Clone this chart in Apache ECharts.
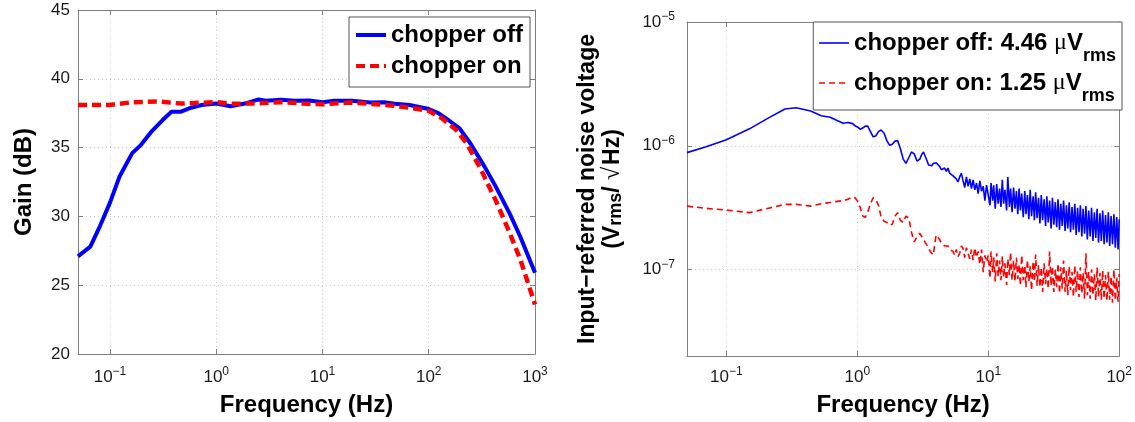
<!DOCTYPE html>
<html>
<head>
<meta charset="utf-8">
<script src="https://cdn.jsdelivr.net/npm/echarts@6/dist/echarts.min.js"></script>
<style>
  html, body { margin: 0; padding: 0; background: #ffffff; }
  #chart { width: 1135px; height: 422px; }
</style>
</head>
<body>
<div id="chart"></div>
<script>
// ---- Gain response (left panel), frequency in Hz, gain in dB ----
const gainOffFreq = [0.05, 0.0653, 0.0805, 0.1, 0.123, 0.162, 0.196, 0.248, 0.313, 0.379, 0.46, 0.58, 0.73,
  1.0, 1.36, 1.86, 2.5, 2.95, 4.03, 5.5, 7.5, 10, 12.9, 19, 28, 38, 48, 66,
  100, 123, 155, 195, 247, 336, 425, 578, 729, 1000];
const gainOff = [27.1, 27.8, 29.3, 31.0, 32.9, 34.6, 35.2, 36.2, 37.0, 37.6, 37.6, 37.9, 38.1,
  38.2, 38.0, 38.2, 38.5, 38.4, 38.47, 38.4, 38.42, 38.3, 38.4, 38.4, 38.27, 38.3, 38.18, 38.1,
  37.8, 37.5, 36.97, 36.4, 35.3, 33.6, 32.2, 30.2, 28.5, 25.9];

const gainOnFreq = [0.05, 0.1, 0.162, 0.29, 0.46, 1.0, 1.47, 2.55, 4.03, 7.5, 10, 19, 32, 48, 71,
  100, 133, 181, 228, 310, 425, 578, 729, 1000];
const gainOn = [38.1, 38.1, 38.3, 38.35, 38.2, 38.3, 38.18, 38.22, 38.3, 38.18, 38.15, 38.27, 38.15, 38.03, 37.86,
  37.67, 37.13, 36.29, 35.3, 33.4, 31.2, 28.8, 26.85, 23.6];

// ---- Input-referred noise spectral density (right panel) ----
// frequency in Hz, noise in nV/sqrt(Hz)
const noiseFreq = [
  0.05, 0.07, 0.1, 0.15, 0.21, 0.28, 0.34, 0.44, 0.53, 0.62, 0.7, 0.78, 0.85, 0.92, 0.96,
  1.0, 1.05, 1.1, 1.15, 1.2, 1.26, 1.32, 1.38, 1.45, 1.52, 1.6, 1.68, 1.76, 1.85, 1.94, 2.03, 2.13, 2.24, 2.35, 2.47, 2.59, 2.72, 2.86, 3.0,
  3.1, 3.2, 3.3, 3.4, 3.5, 3.6, 3.7, 3.8, 3.9, 4.0, 4.12, 4.25, 4.38, 4.5, 4.64, 4.78, 4.92, 5.07, 5.22, 5.38,
  5.54, 5.7, 5.87, 6.05, 6.23, 6.42, 6.61, 6.81, 7.01, 7.22, 7.44, 7.66, 7.89, 8.13, 8.37, 8.62, 8.88, 9.15, 9.42, 9.7,
  10, 10.3, 10.5, 10.8, 11, 11.3, 11.6, 11.9, 12.2, 12.5,
  12.8, 13.1, 13.4, 13.8, 14.1, 14.5, 14.8, 15.2, 15.6, 16,
  16.4, 16.8, 17.2, 17.6, 18, 18.5, 19, 19.4, 19.9, 20.4,
  20.9, 21.4, 22, 22.5, 23, 23.6, 24.2, 24.8, 25.4, 26,
  26.7, 27.4, 28, 28.7, 29.4, 30.2, 30.9, 31.7, 32.5, 33.3,
  34.1, 35, 35.8, 36.7, 37.6, 38.6, 39.5, 40.5, 41.5, 42.5,
  43.6, 44.7, 45.8, 46.9, 48.1, 49.3, 50.5, 51.8, 53, 54.4,
  55.7, 57.1, 58.5, 60, 61.5, 63, 64.6, 66.2, 67.8, 69.5,
  71.3, 73, 74.8, 76.7, 78.6, 80.6, 82.6, 84.6, 86.7, 88.9,
  91.1, 93.4, 95.7, 98, 100];

const noiseOff = [
  880, 980, 1120, 1370, 1680, 1980, 2030, 1910, 1750, 1700, 1600, 1520, 1540, 1510, 1450,
  1420, 1360, 1390, 1440, 1440, 1300, 1180, 1200, 1300, 1340, 1260, 1100, 1010, 1030, 1090, 1100, 950, 780, 720, 800, 890, 860, 750, 780,
  850, 890, 880, 760, 700, 680, 690, 720, 700, 730, 745, 680, 640, 640, 660, 620, 660, 600, 620, 570,
  590, 540, 510, 560, 600, 520, 460, 560, 470, 540, 450, 530, 440, 500, 410, 520, 430, 470, 360, 480,
  470, 330, 500, 360, 480, 310, 490, 340, 450, 320,
  530, 340, 440, 300, 560, 320, 450, 290, 460, 310,
  430, 280, 450, 300, 410, 265, 430, 280, 400, 255,
  440, 270, 390, 250, 420, 260, 380, 235, 400, 250,
  370, 225, 390, 240, 360, 215, 380, 230, 350, 220,
  370, 210, 340, 225, 360, 205, 330, 215, 350, 200,
  320, 210, 340, 190, 315, 200, 330, 185, 310, 195,
  325, 175, 300, 185, 315, 170, 290, 180, 310, 165,
  285, 170, 300, 160, 275, 165, 290, 155, 270, 160,
  280, 150, 265, 145, 255];

const noiseOn = [
  325, 312, 302, 288, 313, 336, 336, 325, 340, 348, 355, 360, 370, 387, 380,
  360, 320, 270, 264, 290, 340, 380, 370, 330, 265, 245, 240, 228, 232, 270, 288, 250, 240, 270, 260, 200, 167, 185, 196,
  190, 175, 165, 160, 150, 140, 135, 131, 160, 190, 196, 175, 163, 160, 155, 150, 155, 145, 144, 140,
  130, 145, 127, 135, 155, 148, 125, 150, 135, 122, 145, 119, 150, 125, 140, 110, 145, 95, 130, 115,
  130, 85, 140, 95, 125, 80, 135, 88, 118, 82,
  128, 86, 112, 75, 122, 90, 138, 82, 118, 80,
  125, 84, 110, 74, 130, 82, 108, 72, 120, 80,
  106, 68, 116, 80, 132, 74, 108, 72, 104, 66,
  112, 76, 102, 70, 140, 74, 106, 66, 100, 72,
  112, 64, 104, 70, 118, 66, 98, 62, 106, 68,
  96, 60, 108, 66, 98, 60, 104, 64, 94, 58,
  135, 62, 96, 58, 100, 62, 92, 56, 104, 60,
  94, 57, 98, 58, 90, 56, 96, 57, 88, 54,
  100, 56, 86, 55, 92];

const gainNames = ['chopper off', 'chopper on'];
const noiseNames = ['chopper off: 4.46 \u03bcVrms', 'chopper on: 1.25 \u03bcVrms'];
const noiseLegendParts = { [noiseNames[0]]: 'chopper off: 4.46 ', [noiseNames[1]]: 'chopper on: 1.25 ' };

// ---- helpers ----
const FONT = "'Liberation Sans', Arial, Helvetica, sans-serif";
const FRAME = '#7f7f7f';
const BLUE = '#0000ff';
const RED = '#ff0000';

function pairs(xs, ys, scale) {
  return xs.map((x, i) => [x, ys[i] * (scale || 1)]);
}

function powerLabel(v) {
  const e = Math.log10(v);
  const r = Math.round(e);
  if (Math.abs(e - r) > 1e-6) return '';
  return '{b|10}{s|' + (r < 0 ? '\u2212' + (-r) : String(r)) + '}';
}

const powerRich = {
  b: { fontSize: 17, fontFamily: FONT, color: '#1a1a1a', lineHeight: 22 },
  s: { fontSize: 12, fontFamily: FONT, color: '#1a1a1a', lineHeight: 12, verticalAlign: 'top' }
};

const titleStyle = { fontSize: 24, fontWeight: 'bold', fontFamily: FONT, color: '#000' };
const gridLine = { show: true, lineStyle: { color: '#c8c8c8', type: [1, 3], width: 1 } };
const innerTick = { show: true, inside: true, length: 5, lineStyle: { color: FRAME } };
const frameLine = { show: true, lineStyle: { color: FRAME, width: 1 } };

function mirrorAxis(base, position) {
  return Object.assign({}, base, {
    position: position,
    name: '',
    axisLabel: { show: false },
    splitLine: { show: false },
    axisTick: innerTick,
    axisLine: frameLine
  });
}

const gainX = {
  type: 'log', gridIndex: 0, min: 0.05, max: 1000, logBase: 10,
  axisLine: frameLine, axisTick: innerTick, splitLine: gridLine,
  axisLabel: { formatter: powerLabel, rich: powerRich, margin: 12 },
  name: 'Frequency (Hz)', nameLocation: 'middle', nameGap: 39, nameTextStyle: titleStyle
};
const gainY = {
  type: 'value', gridIndex: 0, min: 20, max: 45, interval: 5,
  axisLine: frameLine, axisTick: innerTick, splitLine: gridLine,
  axisLabel: { fontSize: 17, fontFamily: FONT, color: '#1a1a1a', margin: 8 },
  name: 'Gain (dB)', nameLocation: 'middle', nameGap: 42, nameRotate: 90, nameTextStyle: titleStyle
};
const noiseX = {
  type: 'log', gridIndex: 1, min: 0.05, max: 100, logBase: 10,
  axisLine: frameLine, axisTick: innerTick, splitLine: gridLine,
  axisLabel: { formatter: powerLabel, rich: powerRich, margin: 10 },
  name: 'Frequency (Hz)', nameLocation: 'middle', nameGap: 37, nameTextStyle: titleStyle
};
const noiseY = {
  type: 'log', gridIndex: 1, min: 2e-8, max: 1e-5, logBase: 10,
  axisLine: frameLine, axisTick: innerTick, splitLine: gridLine,
  axisLabel: { formatter: powerLabel, rich: powerRich, margin: 12 },
  name: 'Input\u2212referred noise voltage\n{p|(V}{sub|rms}{p|/ }{sq|\u221a}{p|Hz)}',
  nameLocation: 'middle', nameGap: 62, nameRotate: 90,
  nameTextStyle: Object.assign({}, titleStyle, {
    fontSize: 23, lineHeight: 25,
    rich: {
      p: { fontSize: 23, fontWeight: 'bold', fontFamily: FONT, color: '#000', lineHeight: 25 },
      sub: { fontSize: 18, fontWeight: 'bold', fontFamily: FONT, color: '#000', lineHeight: 7, verticalAlign: 'bottom' },
      sq: { fontSize: 24, fontWeight: 'normal', fontFamily: "'Liberation Serif', serif", color: '#000', lineHeight: 25, padding: [0, 2, 0, 0] }
    }
  })
};

const chart = echarts.init(document.getElementById('chart'), null, { renderer: 'canvas' });

chart.setOption({
  animation: false,
  backgroundColor: '#ffffff',
  grid: [
    { left: 78, top: 10, width: 457, height: 344 },
    { left: 687, top: 22, width: 435, height: 334 }
  ],
  xAxis: [gainX, mirrorAxis(gainX, 'top'), noiseX, mirrorAxis(noiseX, 'top')],
  yAxis: [gainY, mirrorAxis(gainY, 'right'), noiseY, mirrorAxis(noiseY, 'right')],
  legend: [
    {
      data: [
        { name: gainNames[0], lineStyle: { width: 4 } },
        { name: gainNames[1], lineStyle: { width: 4 } }
      ],
      orient: 'vertical', right: 605, top: 17,
      itemWidth: 30, itemHeight: 14, itemGap: 7,
      padding: [6, 7, 9, 5],
      itemStyle: { opacity: 0 },
      backgroundColor: '#ffffff', borderColor: '#555', borderWidth: 1,
      textStyle: { fontSize: 24, fontWeight: 'bold', fontFamily: FONT, color: '#000', lineHeight: 24 }
    },
    {
      data: [
        { name: noiseNames[0], lineStyle: { width: 1.6 } },
        { name: noiseNames[1], lineStyle: { width: 1.6 } }
      ],
      orient: 'vertical', right: 13, top: 22,
      itemWidth: 30, itemHeight: 14, itemGap: 6,
      padding: [9, 6, 5, 5],
      itemStyle: { opacity: 0 },
      backgroundColor: '#ffffff', borderColor: '#555', borderWidth: 1,
      formatter: function (name) {
        return '{t|' + noiseLegendParts[name] + '}{mu|\u03bc}{t|V}{sub|rms}';
      },
      textStyle: {
        fontSize: 24, fontWeight: 'bold', fontFamily: FONT, color: '#000',
        rich: {
          t: { fontSize: 24, fontWeight: 'bold', fontFamily: FONT, color: '#000', lineHeight: 44 },
          mu: { fontSize: 24, fontWeight: 'normal', fontFamily: "'Liberation Serif', serif", color: '#000', lineHeight: 44 },
          sub: { fontSize: 18, fontWeight: 'bold', fontFamily: FONT, color: '#000', lineHeight: 6, verticalAlign: 'bottom' }
        }
      }
    }
  ],
  series: [
    {
      name: gainNames[0], type: 'line', xAxisIndex: 0, yAxisIndex: 0,
      data: pairs(gainOffFreq, gainOff), symbol: 'none', showSymbol: false,
      lineStyle: { color: BLUE, width: 4 }, itemStyle: { color: BLUE }, z: 2
    },
    {
      name: gainNames[1], type: 'line', xAxisIndex: 0, yAxisIndex: 0,
      data: pairs(gainOnFreq, gainOn), symbol: 'none', showSymbol: false,
      lineStyle: { color: RED, width: 4.5, type: [9, 5] }, itemStyle: { color: RED }, z: 3
    },
    {
      name: noiseNames[0], type: 'line', xAxisIndex: 2, yAxisIndex: 2,
      data: pairs(noiseFreq, noiseOff, 1e-9), symbol: 'none', showSymbol: false,
      lineStyle: { color: BLUE, width: 1.6 }, itemStyle: { color: BLUE }, z: 2
    },
    {
      name: noiseNames[1], type: 'line', xAxisIndex: 2, yAxisIndex: 2,
      data: pairs(noiseFreq, noiseOn, 1e-9), symbol: 'none', showSymbol: false,
      lineStyle: { color: RED, width: 1.6, type: [6, 4] }, itemStyle: { color: RED }, z: 3
    }
  ]
});
</script>
</body>
</html>
